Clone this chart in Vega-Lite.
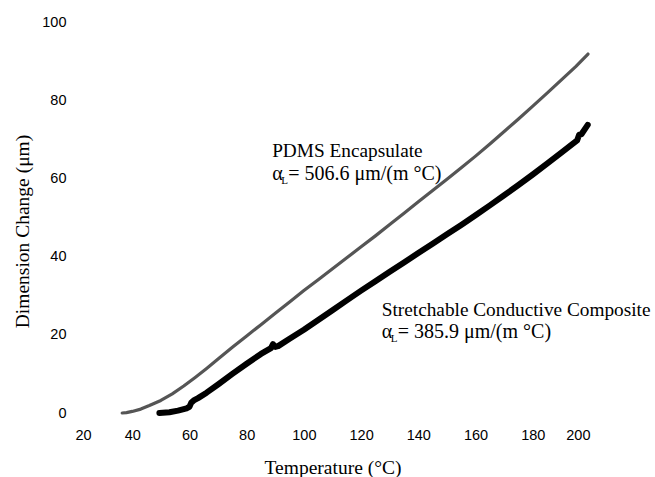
{
  "$schema": "https://vega.github.io/schema/vega-lite/v6.json",
  "autosize": {"type": "none"},
  "width": 515,
  "height": 391,
  "padding": {"left": 75, "top": 22, "right": 65, "bottom": 64},
  "background": "white",
  "config": {
    "view": {"stroke": null},
    "axis": {
      "grid": false, "domain": false, "ticks": false, "tickSize": 0,
      "labelFont": "Liberation Sans", "labelFontSize": 14.5, "labelColor": "#000",
      "titleFont": "Liberation Serif", "titleFontSize": 19.5, "titleFontWeight": "normal", "titleColor": "#000"
    }
  },
  "datasets": {
    "curves": [
      {"series": "PDMS", "temp": 36.5, "change": 0},
      {"series": "PDMS", "temp": 38, "change": 0.1},
      {"series": "PDMS", "temp": 40, "change": 0.4},
      {"series": "PDMS", "temp": 43, "change": 1.0},
      {"series": "PDMS", "temp": 46, "change": 1.9},
      {"series": "PDMS", "temp": 50, "change": 3.2},
      {"series": "PDMS", "temp": 54, "change": 4.9},
      {"series": "PDMS", "temp": 58, "change": 6.9},
      {"series": "PDMS", "temp": 62, "change": 9.1},
      {"series": "PDMS", "temp": 66, "change": 11.4},
      {"series": "PDMS", "temp": 70, "change": 13.8},
      {"series": "PDMS", "temp": 75, "change": 16.8},
      {"series": "PDMS", "temp": 80, "change": 19.7},
      {"series": "PDMS", "temp": 85, "change": 22.6},
      {"series": "PDMS", "temp": 90, "change": 25.5},
      {"series": "PDMS", "temp": 95, "change": 28.4},
      {"series": "PDMS", "temp": 100, "change": 31.3},
      {"series": "PDMS", "temp": 105, "change": 34.1},
      {"series": "PDMS", "temp": 110, "change": 36.9},
      {"series": "PDMS", "temp": 115, "change": 39.7},
      {"series": "PDMS", "temp": 120, "change": 42.5},
      {"series": "PDMS", "temp": 125, "change": 45.3},
      {"series": "PDMS", "temp": 130, "change": 48.2},
      {"series": "PDMS", "temp": 135, "change": 51.1},
      {"series": "PDMS", "temp": 140, "change": 54.0},
      {"series": "PDMS", "temp": 145, "change": 56.9},
      {"series": "PDMS", "temp": 150, "change": 59.8},
      {"series": "PDMS", "temp": 155, "change": 62.7},
      {"series": "PDMS", "temp": 160, "change": 65.7},
      {"series": "PDMS", "temp": 165, "change": 68.8},
      {"series": "PDMS", "temp": 170, "change": 72.0},
      {"series": "PDMS", "temp": 175, "change": 75.2},
      {"series": "PDMS", "temp": 180, "change": 78.5},
      {"series": "PDMS", "temp": 185, "change": 81.8},
      {"series": "PDMS", "temp": 190, "change": 85.2},
      {"series": "PDMS", "temp": 195, "change": 88.6},
      {"series": "PDMS", "temp": 199.3, "change": 91.8},
      {"series": "Composite", "temp": 49.5, "change": 0},
      {"series": "Composite", "temp": 53, "change": 0.2},
      {"series": "Composite", "temp": 56, "change": 0.6},
      {"series": "Composite", "temp": 59, "change": 1.2},
      {"series": "Composite", "temp": 60, "change": 1.6},
      {"series": "Composite", "temp": 60.6, "change": 2.6},
      {"series": "Composite", "temp": 61.5, "change": 3.2},
      {"series": "Composite", "temp": 63, "change": 3.8},
      {"series": "Composite", "temp": 66, "change": 5.2},
      {"series": "Composite", "temp": 70, "change": 7.3},
      {"series": "Composite", "temp": 75, "change": 10.0},
      {"series": "Composite", "temp": 80, "change": 12.6},
      {"series": "Composite", "temp": 85, "change": 15.1},
      {"series": "Composite", "temp": 88.5, "change": 16.6},
      {"series": "Composite", "temp": 89.2, "change": 17.6},
      {"series": "Composite", "temp": 90, "change": 16.9},
      {"series": "Composite", "temp": 91, "change": 17.1},
      {"series": "Composite", "temp": 95, "change": 19.0},
      {"series": "Composite", "temp": 100, "change": 21.3},
      {"series": "Composite", "temp": 105, "change": 23.8},
      {"series": "Composite", "temp": 110, "change": 26.3},
      {"series": "Composite", "temp": 115, "change": 28.8},
      {"series": "Composite", "temp": 120, "change": 31.3},
      {"series": "Composite", "temp": 125, "change": 33.7},
      {"series": "Composite", "temp": 130, "change": 36.1},
      {"series": "Composite", "temp": 135, "change": 38.5},
      {"series": "Composite", "temp": 140, "change": 40.9},
      {"series": "Composite", "temp": 145, "change": 43.3},
      {"series": "Composite", "temp": 150, "change": 45.7},
      {"series": "Composite", "temp": 155, "change": 48.1},
      {"series": "Composite", "temp": 160, "change": 50.6},
      {"series": "Composite", "temp": 165, "change": 53.1},
      {"series": "Composite", "temp": 170, "change": 55.7},
      {"series": "Composite", "temp": 175, "change": 58.3},
      {"series": "Composite", "temp": 180, "change": 61.0},
      {"series": "Composite", "temp": 185, "change": 63.8},
      {"series": "Composite", "temp": 190, "change": 66.6},
      {"series": "Composite", "temp": 195.5, "change": 69.7},
      {"series": "Composite", "temp": 196.2, "change": 71.2},
      {"series": "Composite", "temp": 197, "change": 71.3},
      {"series": "Composite", "temp": 199.2, "change": 73.7}
    ],
    "notes": [
      {"part": "head", "x": 88.9, "y": 65.6, "text": "PDMS Encapsulate"},
      {"part": "alpha", "x": 88.9, "y": 59.5, "text": "α"},
      {"part": "sub", "x": 88.9, "y": 59.5, "text": "L"},
      {"part": "rest", "x": 88.9, "y": 59.5, "text": "= 506.6 μm/(m °C)"},
      {"part": "head", "x": 127.2, "y": 24.7, "text": "Stretchable Conductive Composite"},
      {"part": "alpha", "x": 127.2, "y": 19.2, "text": "α"},
      {"part": "sub", "x": 127.2, "y": 19.2, "text": "L"},
      {"part": "rest", "x": 127.2, "y": 19.2, "text": "= 385.9 μm/(m °C)"}
    ]
  },
  "layer": [
    {
      "data": {"name": "curves"},
      "mark": {"type": "line", "strokeCap": "round", "strokeJoin": "round"},
      "encoding": {
        "x": {"field": "temp", "type": "quantitative",
              "scale": {"domain": [20, 200], "nice": false, "zero": false},
              "axis": {"values": [20, 40, 60, 80, 100, 120, 140, 160, 180, 200], "labelPadding": 15,
                       "title": "Temperature (°C)", "titleY": 60, "titleBaseline": "alphabetic"}},
        "y": {"field": "change", "type": "quantitative",
              "scale": {"domain": [0, 100], "nice": false},
              "axis": {"values": [0, 20, 40, 60, 80, 100], "labelPadding": 9,
                       "title": "Dimension Change (μm)", "titleX": -53, "titleY": 209, "titleBaseline": "middle"}},
        "color": {"field": "series", "type": "nominal",
                  "scale": {"domain": ["PDMS", "Composite"], "range": ["#555555", "#000000"]}, "legend": null},
        "strokeWidth": {"field": "series", "type": "nominal",
                  "scale": {"domain": ["PDMS", "Composite"], "range": [3.2, 6]}, "legend": null},
        "detail": {"field": "series"}
      }
    },
    {
      "data": {"name": "notes"},
      "transform": [{"filter": "datum.part === 'head'"}],
      "mark": {"type": "text", "align": "left", "baseline": "alphabetic", "font": "Liberation Serif", "fontSize": 19.3, "color": "#000"},
      "encoding": {"x": {"field": "x", "type": "quantitative"}, "y": {"field": "y", "type": "quantitative"}, "text": {"field": "text"}}
    },
    {
      "data": {"name": "notes"},
      "transform": [{"filter": "datum.part === 'alpha'"}],
      "mark": {"type": "text", "align": "left", "baseline": "alphabetic", "font": "Liberation Serif", "fontSize": 20, "color": "#000"},
      "encoding": {"x": {"field": "x", "type": "quantitative"}, "y": {"field": "y", "type": "quantitative"}, "text": {"field": "text"}}
    },
    {
      "data": {"name": "notes"},
      "transform": [{"filter": "datum.part === 'sub'"}],
      "mark": {"type": "text", "align": "left", "baseline": "alphabetic", "font": "Liberation Serif", "fontSize": 11, "dx": 9, "dy": 4, "color": "#000"},
      "encoding": {"x": {"field": "x", "type": "quantitative"}, "y": {"field": "y", "type": "quantitative"}, "text": {"field": "text"}}
    },
    {
      "data": {"name": "notes"},
      "transform": [{"filter": "datum.part === 'rest'"}],
      "mark": {"type": "text", "align": "left", "baseline": "alphabetic", "font": "Liberation Serif", "fontSize": 20, "dx": 16, "color": "#000"},
      "encoding": {"x": {"field": "x", "type": "quantitative"}, "y": {"field": "y", "type": "quantitative"}, "text": {"field": "text"}}
    }
  ]
}
